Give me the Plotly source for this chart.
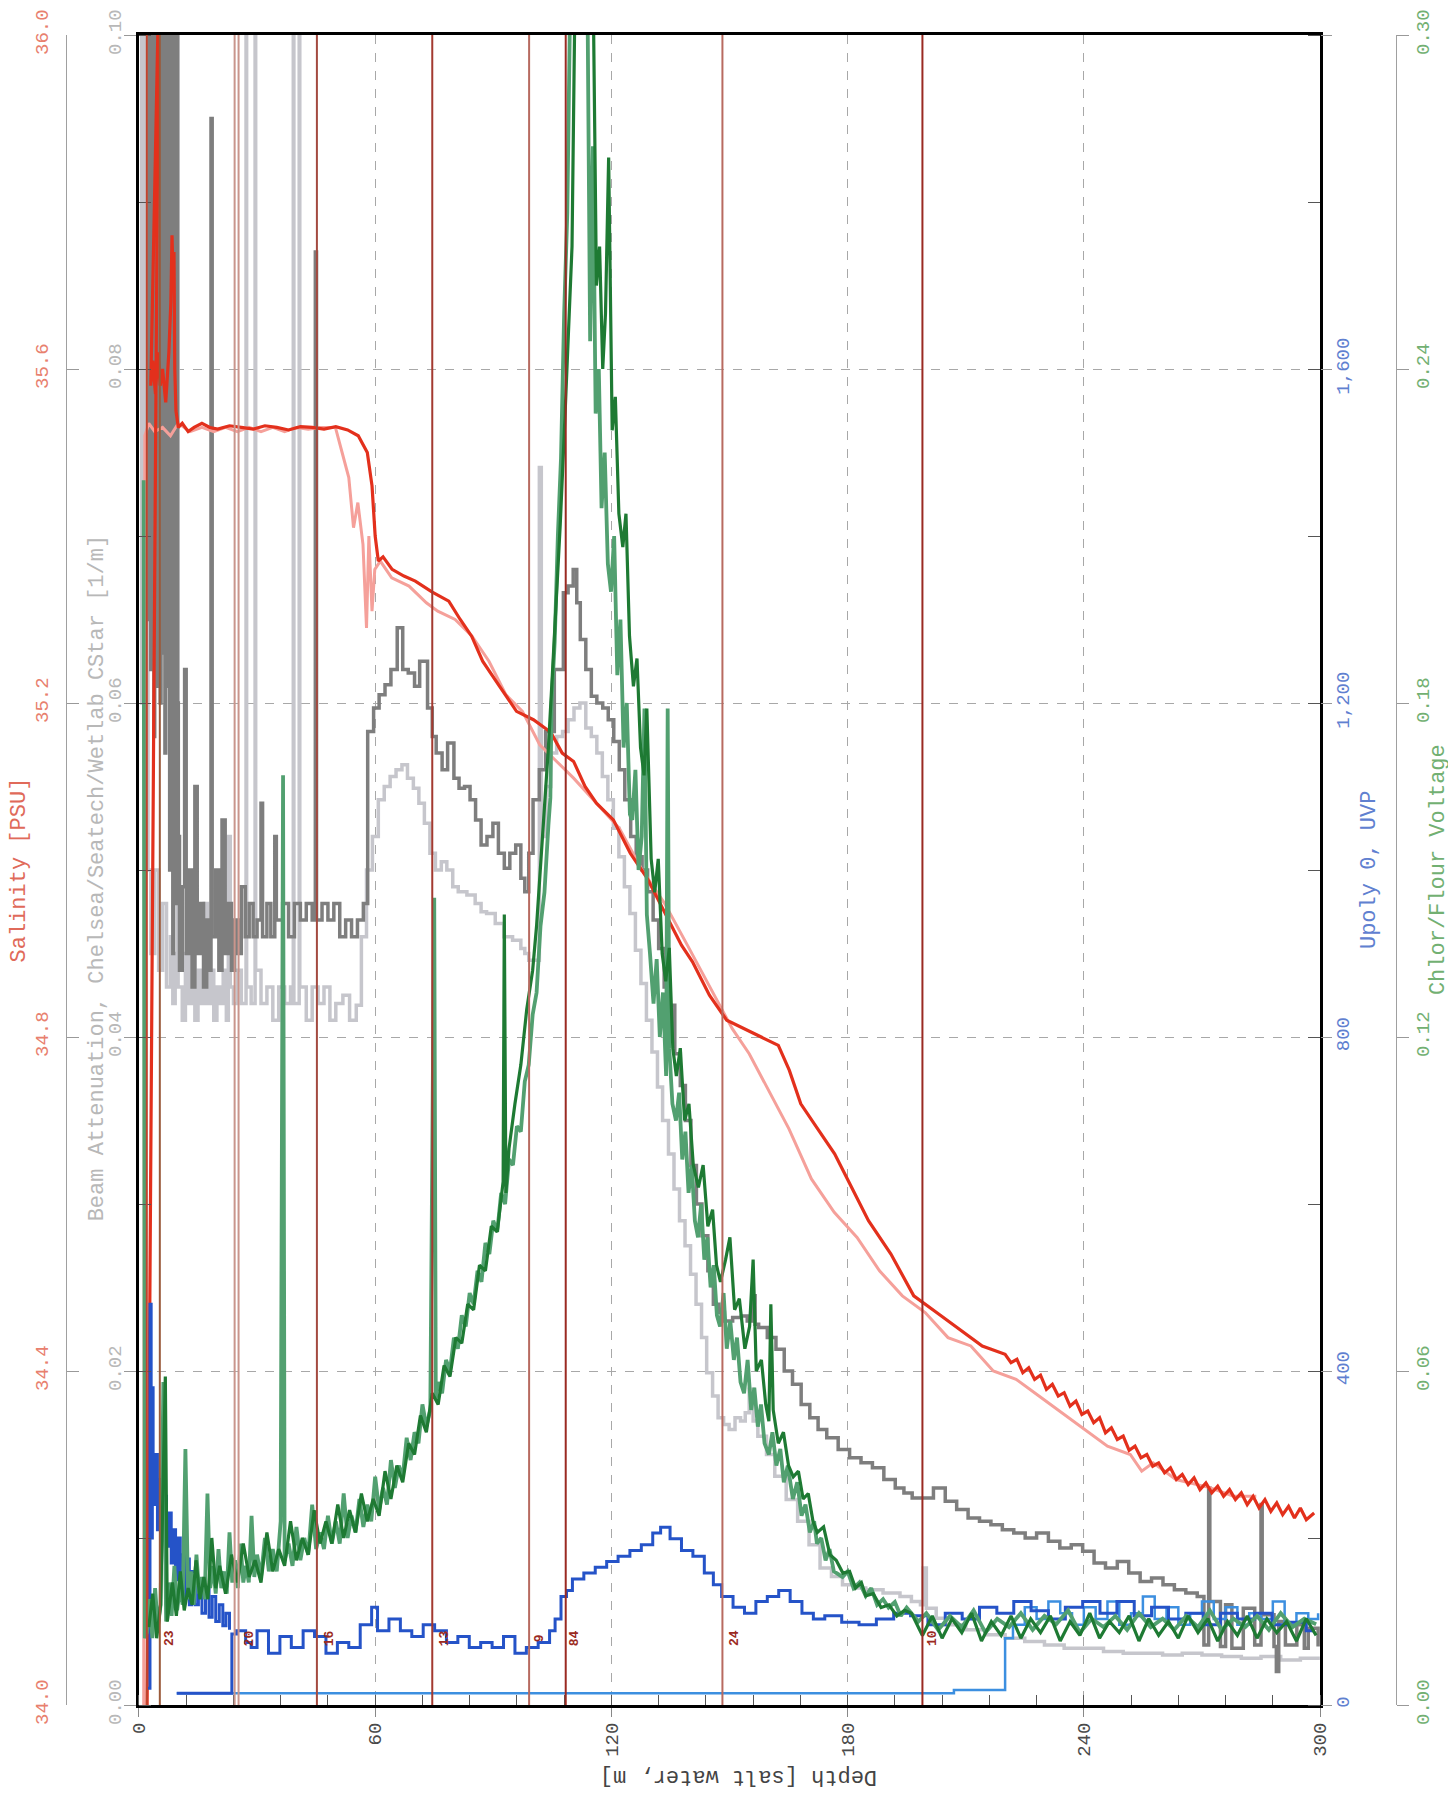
import plotly.graph_objects as go

# ---- data (depth in m) ----
sal_a_depth = [
    2.0, 5.0, 3.0, 3.5, 4.2, 4.8, 5.4, 6.0, 6.8, 7.6,
    8.1, 8.4, 8.7, 8.9, 9.1, 9.4, 10.0, 11.0, 12.5, 14.0,
    16.0, 18.0, 20.0, 23.0, 26.0, 29.0, 32.0, 35.0, 38.0, 41.0,
    44.0, 47.0, 50.0, 53.0, 55.7, 58.0, 59.2, 60.0, 60.8, 62.0,
    64.3, 67.3, 70.2, 74.4, 78.7, 81.6, 84.5, 87.3, 91.6, 95.9,
    100.2, 104.6, 107.5, 110.4, 113.3, 116.2, 120.5, 124.8, 129.1, 133.4,
    137.8, 140.6, 144.9, 149.3, 153.6, 158.0, 162.4, 165.2, 168.1, 172.4,
    176.7, 181.0, 185.3, 191.0, 196.8, 202.6, 208.4, 214.2,
    220.0, 221.5, 223.0, 224.5, 226.0, 227.5, 229.0, 230.5, 232.0, 233.5,
    235.0, 236.5, 238.0, 239.5, 241.0, 242.5, 244.0, 245.5, 247.0, 248.5,
    250.0, 251.5, 253.0, 254.5, 256.0, 257.5, 259.0, 260.5, 262.0, 263.5,
    265.0, 266.5, 268.0, 269.5, 271.0, 272.5, 274.0, 275.5, 277.0, 278.5,
    280.0, 281.5, 283.0, 284.5, 286.0, 287.5, 289.0, 290.5, 292.0, 293.5,
    295.0, 296.5, 298.5]
sal_a = [
    33.95, 36.05, 35.58, 35.61, 35.57, 35.62, 35.58, 35.60, 35.56, 35.62,
    35.68, 35.76, 35.70, 35.74, 35.60, 35.55, 35.53, 35.535, 35.525, 35.53,
    35.535, 35.53, 35.528, 35.532, 35.53, 35.528, 35.532, 35.53, 35.527, 35.531,
    35.53, 35.528, 35.531, 35.527, 35.52, 35.50, 35.46, 35.40, 35.37, 35.375,
    35.36, 35.352, 35.346, 35.333, 35.322, 35.30, 35.28, 35.25, 35.22, 35.19,
    35.18, 35.165, 35.14, 35.13, 35.10, 35.08, 35.06, 35.02, 34.99, 34.95,
    34.91, 34.89, 34.85, 34.82, 34.81, 34.80, 34.79, 34.76, 34.72, 34.69,
    34.66, 34.62, 34.58, 34.54, 34.49, 34.47, 34.45, 34.43,
    34.42, 34.41, 34.414, 34.398, 34.404, 34.39, 34.395, 34.378, 34.384, 34.37,
    34.374, 34.358, 34.364, 34.348, 34.352, 34.338, 34.344, 34.326, 34.332, 34.318,
    34.322, 34.305, 34.31, 34.296, 34.30, 34.286, 34.29, 34.278, 34.284, 34.27,
    34.276, 34.264, 34.272, 34.258, 34.266, 34.254, 34.262, 34.25, 34.258, 34.246,
    34.254, 34.24, 34.25, 34.236, 34.246, 34.232, 34.242, 34.228, 34.238, 34.224,
    34.236, 34.222, 34.23]

sal_b_depth = [
    1.2, 1.5, 2.5, 4.0, 6.0, 8.0, 10.0, 13.0, 16.0, 19.0,
    22.0, 25.0, 28.0, 31.0, 34.0, 37.0, 40.0, 43.0, 46.0, 48.5,
    49.9, 51.6, 53.3, 54.5, 55.6, 56.9, 57.8, 58.4, 59.2, 59.9,
    61.3, 64.2, 68.6, 73.0, 75.9, 80.3, 84.6, 88.9, 93.2, 97.4,
    101.8, 106.1, 110.4, 116.2, 122.0, 127.8, 133.5, 139.3, 145.0, 150.7,
    155.0, 159.4, 165.1, 170.8, 176.6, 182.4, 188.1, 193.9, 199.7, 205.5,
    211.3, 217.0, 222.8, 228.6, 234.4, 240.2, 246.0, 251.8, 254.7, 257.6,
    263.4, 272.2, 278.0, 283.8]
sal_b = [
    33.95, 35.52, 35.535, 35.525, 35.53, 35.52, 35.535, 35.525, 35.53, 35.525,
    35.53, 35.525, 35.53, 35.525, 35.53, 35.525, 35.53, 35.528, 35.53, 35.53,
    35.53, 35.50, 35.47, 35.41, 35.44, 35.39, 35.29, 35.40, 35.31, 35.36,
    35.37, 35.35, 35.34, 35.32, 35.31, 35.30, 35.28, 35.25, 35.21, 35.19,
    35.15, 35.13, 35.11, 35.08, 35.05, 35.00, 34.96, 34.91, 34.86, 34.81,
    34.78, 34.74, 34.69, 34.63, 34.59, 34.56, 34.52, 34.49, 34.47, 34.44,
    34.43, 34.40, 34.39, 34.37, 34.35, 34.33, 34.31, 34.30, 34.28, 34.29,
    34.27, 34.26, 34.25, 34.25]

beam_a_depth = [
    2.4, 2.6, 2.8, 3.0, 3.2, 3.4, 3.6, 3.8, 4.0, 4.2,
    4.4, 4.6, 4.8, 5.0, 5.2, 5.4, 5.6, 5.8, 6.0, 6.2,
    6.4, 6.6, 6.8, 7.0, 7.2, 7.4, 7.6, 7.8, 8.0, 8.2,
    8.4, 8.6, 8.8, 9.0, 9.2, 9.4, 9.6, 9.8, 10.0,
    10.3, 11.0, 11.6, 12.0, 12.8, 13.5, 14.2, 14.8, 15.6, 16.4,
    17.2, 17.9, 18.3, 18.6, 19.5, 20.3, 21.1, 21.9, 22.7, 23.5,
    24.3, 25.1, 26.0, 27.0, 28.0, 29.0, 30.0, 31.0, 31.4, 32.5,
    33.5, 34.5, 34.9, 36.5, 38.0, 39.5, 41.0, 42.5, 44.0, 44.8,
    45.1, 46.5, 48.0, 49.5, 51.0, 52.5, 54.0, 55.5, 57.0, 58.1,
    59.6, 61.0, 62.5, 64.0, 65.6, 67.0, 68.4, 70.0, 71.3, 73.3,
    74.5, 75.5, 77.0, 78.4, 80.0, 81.3, 82.7, 84.1, 85.5, 86.9,
    88.4, 89.9, 91.3, 92.8, 94.2, 95.7, 97.0, 98.0, 99.0, 100.1,
    101.7, 103.3, 105.5, 107.8, 109.0, 110.3, 111.2, 112.1, 113.5, 114.9,
    116.3, 117.8, 119.2, 120.6, 122.0, 123.4, 124.9, 126.3, 127.8, 129.2,
    130.6, 132.0, 133.4, 134.7, 136.1, 137.5, 138.8, 140.2, 141.6, 143.0,
    144.5, 145.9, 147.3, 148.7, 150.8, 153.0, 154.5, 155.9, 156.5, 157.4,
    159.6, 161.8, 163.9, 166.0, 168.2, 170.4, 172.5, 174.7, 177.6, 180.5,
    183.4, 186.3, 189.2, 192.1, 194.3, 196.4, 198.9, 201.8, 204.8, 207.7,
    210.6, 213.5, 216.4, 219.3, 222.2, 225.1, 228.0, 231.0, 233.9, 236.8,
    239.7, 242.6, 245.5, 248.5, 251.4, 254.3, 257.2, 260.1, 263.0, 265.9,
    268.8, 270.5, 271.7, 272.0, 274.7, 276.0, 277.6, 280.5, 283.4, 285.0,
    285.3, 288.3, 288.9, 289.5, 291.2, 294.1, 296.0, 297.0, 299.5]
beam_a = [
    0.12, 0.065, 0.12, 0.062, 0.12, 0.070, 0.12, 0.058, 0.12, 0.066,
    0.12, 0.061, 0.12, 0.072, 0.12, 0.060, 0.12, 0.068, 0.12, 0.063,
    0.12, 0.057, 0.12, 0.066, 0.12, 0.061, 0.12, 0.050, 0.12, 0.064,
    0.12, 0.045, 0.12, 0.062, 0.12, 0.048, 0.11, 0.060, 0.052,
    0.044, 0.049, 0.062, 0.045, 0.050, 0.043, 0.055, 0.045, 0.048, 0.043,
    0.047, 0.044, 0.095, 0.046, 0.050, 0.044, 0.053, 0.045, 0.048, 0.044,
    0.047, 0.045, 0.049, 0.046, 0.048, 0.046, 0.047, 0.054, 0.046, 0.048,
    0.046, 0.052, 0.047, 0.048, 0.046, 0.048, 0.047, 0.048, 0.047, 0.087,
    0.047, 0.048, 0.047, 0.048, 0.046, 0.047, 0.046, 0.047, 0.048, 0.0583,
    0.0597, 0.0605, 0.0611, 0.062, 0.0645, 0.062, 0.0618, 0.061, 0.0625, 0.0597,
    0.058, 0.057, 0.056, 0.0576, 0.0555, 0.0549, 0.055, 0.0542, 0.053, 0.0515,
    0.052, 0.0528, 0.051, 0.0501, 0.051, 0.0515, 0.0495, 0.0487, 0.051, 0.0542,
    0.056, 0.0583, 0.062, 0.0666, 0.067, 0.068, 0.066, 0.0638, 0.062, 0.0604,
    0.060, 0.0597, 0.059, 0.0577, 0.056, 0.0542, 0.052, 0.0508, 0.050, 0.0487,
    0.047, 0.0453, 0.043, 0.0419, 0.039, 0.0371, 0.035, 0.0323, 0.030, 0.0281,
    0.026, 0.024, 0.0235, 0.023, 0.0232, 0.0233, 0.023, 0.0245, 0.0228, 0.0226,
    0.022, 0.0213, 0.020, 0.0192, 0.018, 0.0172, 0.0165, 0.016, 0.0153, 0.0148,
    0.0145, 0.0142, 0.0135, 0.013, 0.0127, 0.0124, 0.0124, 0.0130, 0.0122, 0.0117,
    0.0112, 0.0110, 0.0108, 0.0105, 0.0103, 0.0100, 0.0103, 0.0098, 0.0094, 0.0096,
    0.0092, 0.0085, 0.0082, 0.0086, 0.0079, 0.0074, 0.0076, 0.0072, 0.0069, 0.0067,
    0.0065, 0.0036, 0.0130, 0.0062, 0.0035, 0.0060, 0.0034, 0.0058, 0.0036, 0.0120,
    0.0054, 0.0035, 0.0020, 0.0050, 0.0036, 0.0048, 0.0034, 0.0046, 0.0035]

beam_b_depth = [
    0.3, 0.7, 1.1, 1.5, 1.9, 2.3, 3.0, 4.0, 5.0, 6.0,
    7.0, 8.0, 8.6, 9.2, 9.8, 9.95, 11.0, 11.8, 12.6, 13.4,
    14.2, 15.0, 15.8, 16.6, 17.4, 18.2, 19.0, 19.8, 20.6, 21.4,
    22.2, 22.7, 23.2, 24.0, 25.0, 26.0, 27.2, 27.35, 28.5, 29.5,
    29.65, 31.0, 32.5, 34.0, 35.5, 37.0, 38.5, 39.2, 39.35, 40.7,
    40.85, 42.5, 44.0, 45.5, 47.0, 48.5, 50.0, 51.8, 53.5, 55.2,
    56.5, 57.8, 59.3, 60.8, 62.3, 63.8, 65.3, 66.8, 68.2, 69.7,
    71.1, 72.5, 73.9, 75.3, 76.8, 78.2, 79.7, 81.1, 83.3, 85.4,
    86.9, 88.3, 90.5, 92.7, 94.9, 97.0, 98.0, 99.0, 101.7, 102.2,
    103.4, 104.6, 106.1, 107.6, 109.0, 110.5, 112.0, 113.5, 114.9, 116.3,
    117.7, 119.1, 120.5, 121.9, 123.3, 124.7, 126.1, 127.5, 128.9, 130.3,
    131.7, 133.0, 134.5, 135.9, 137.3, 138.7, 140.1, 141.5, 142.9, 144.2,
    145.7, 147.1, 148.5, 149.9, 151.4, 152.8, 154.0, 155.0, 156.0, 157.2,
    159.4, 161.5, 164.4, 167.3, 170.2, 173.0, 175.9, 178.7, 181.7, 184.6,
    189.0, 193.3, 196.2, 198.5, 199.2, 200.0, 202.5, 205.0, 210.0, 215.0,
    220.0, 225.0, 230.0, 235.0, 240.0, 245.0, 250.0, 255.0, 260.0, 265.0,
    270.0, 275.0, 280.0, 285.0, 290.0, 295.0, 299.5]
beam_b = [
    0.12, 0.060, 0.12, 0.055, 0.12, 0.050, 0.045, 0.050, 0.044, 0.048,
    0.043, 0.046, 0.042, 0.045, 0.12, 0.043, 0.041, 0.045, 0.042, 0.046,
    0.041, 0.044, 0.042, 0.048, 0.042, 0.044, 0.041, 0.043, 0.042, 0.044,
    0.041, 0.052, 0.043, 0.042, 0.044, 0.042, 0.12, 0.043, 0.042, 0.12,
    0.044, 0.042, 0.043, 0.041, 0.043, 0.042, 0.043, 0.12, 0.042, 0.12,
    0.043, 0.041, 0.043, 0.042, 0.043, 0.041, 0.042, 0.0425, 0.041, 0.0419,
    0.046, 0.050, 0.052, 0.0542, 0.055, 0.0556, 0.056, 0.0563, 0.0555, 0.0549,
    0.054, 0.0528, 0.051, 0.050, 0.0505, 0.050, 0.049, 0.0487, 0.0485, 0.048,
    0.0475, 0.0474, 0.0468, 0.046, 0.0458, 0.0453, 0.045, 0.0446, 0.0741, 0.052,
    0.055, 0.057, 0.058, 0.0583, 0.059, 0.0597, 0.060, 0.0585, 0.058, 0.057,
    0.0556, 0.0542, 0.0525, 0.0508, 0.049, 0.0474, 0.0452, 0.0432, 0.041, 0.0391,
    0.037, 0.035, 0.033, 0.0309, 0.029, 0.0275, 0.0258, 0.024, 0.022, 0.0199,
    0.0185, 0.0172, 0.0168, 0.0165, 0.0172, 0.0170, 0.0175, 0.0189, 0.0170, 0.0161,
    0.0150, 0.0137, 0.0123, 0.011, 0.0096, 0.0082, 0.0077, 0.0072, 0.0070, 0.0069,
    0.0067, 0.0065, 0.0062, 0.0060, 0.0082, 0.0058, 0.0052, 0.0048, 0.0045, 0.0042,
    0.0040, 0.0038, 0.0036, 0.0034, 0.0034, 0.0032, 0.0031, 0.0031, 0.0030, 0.0031,
    0.0030, 0.0029, 0.0028, 0.0029, 0.0027, 0.0028, 0.0027]

chl_b_depth = [
    1.2, 1.5, 2.0, 2.7, 3.4, 4.1, 4.8, 5.5, 6.2, 6.9,
    7.6, 8.3, 9.0, 9.7, 10.4, 11.1, 11.8, 12.5, 13.2, 13.9,
    14.6, 15.3, 16.0, 16.7, 17.4, 18.1, 18.8, 19.5, 20.2, 20.9,
    21.6, 22.3, 23.0, 23.7, 24.4, 25.1, 25.8, 26.5, 27.2, 27.9,
    28.6, 29.3, 30.0, 31.0, 32.0, 33.0, 34.0, 35.0, 36.0, 36.6,
    37.0, 38.0, 39.0, 40.0, 41.0, 42.0, 43.0, 44.0, 45.0, 46.0,
    47.0, 48.0, 49.0, 50.0, 51.0, 52.0, 53.0, 54.0, 55.0, 56.0,
    57.0, 58.0, 59.0, 60.0, 61.0, 62.0, 63.0, 64.0, 65.0, 66.0,
    67.0, 68.0, 69.0, 70.0, 71.0, 72.0, 73.0, 74.0, 75.0, 75.4,
    76.0, 77.0, 78.0, 79.0, 80.0, 81.0, 82.0, 83.0, 84.0, 85.0,
    86.0, 87.0, 88.0, 89.0, 90.0, 91.0, 92.0, 93.0, 94.0, 95.0,
    96.0, 97.0, 98.0, 99.0, 100.0, 101.0, 102.0, 103.0, 104.0, 104.5,
    104.8, 105.6, 106.4, 107.2, 108.0, 108.8, 109.6, 110.6, 111.6, 112.6,
    113.4, 114.0, 114.6, 115.3, 116.0, 116.8, 117.5, 118.3, 119.1, 119.9,
    120.7, 121.5, 122.3, 123.1, 123.9, 124.7, 125.3, 126.1, 126.9, 127.7,
    128.4, 129.0, 129.8, 130.7, 131.5, 132.3, 133.1, 133.9, 134.3, 134.7,
    135.5, 136.4, 137.2, 138.0, 138.8, 139.6, 140.4, 141.2, 142.0, 142.8,
    143.6, 144.4, 145.2, 146.0, 146.8, 147.6, 148.5, 149.3, 150.2, 151.1,
    151.9, 152.8, 153.7, 154.6, 155.5, 156.3, 157.2, 158.0, 158.9, 160.0,
    160.9, 161.9, 162.9, 163.8, 164.8, 166.1, 167.2, 168.3, 169.3, 170.4,
    171.5, 172.2, 173.3, 174.4, 175.4, 176.5, 178.7, 180.0, 181.5, 183.0,
    184.6, 186.0, 187.5, 189.0, 190.4, 192.0, 193.5, 195.0, 196.2, 198.0,
    200.0, 203.0, 206.0, 209.0, 212.0, 215.0, 218.0, 221.0, 224.0, 227.0,
    230.0, 233.0, 236.0, 239.0, 242.0, 245.0, 248.0, 251.0, 254.0, 257.0,
    260.0, 263.0, 266.0, 269.0, 272.0, 275.0, 278.0, 281.0, 284.0, 287.0,
    290.0, 293.0, 296.0, 299.0]
chl_b = [
    0.220, 0.012, 0.013, 0.019, 0.012, 0.021, 0.014, 0.018, 0.058, 0.015,
    0.022, 0.016, 0.025, 0.017, 0.021, 0.018, 0.046, 0.019, 0.024, 0.018,
    0.027, 0.020, 0.023, 0.019, 0.038, 0.021, 0.025, 0.020, 0.028, 0.021,
    0.024, 0.020, 0.031, 0.022, 0.026, 0.021, 0.029, 0.022, 0.025, 0.022,
    0.034, 0.023, 0.027, 0.023, 0.030, 0.024, 0.028, 0.024, 0.033, 0.167,
    0.026, 0.029, 0.025, 0.032, 0.026, 0.030, 0.027, 0.036, 0.028, 0.031,
    0.028, 0.034, 0.029, 0.033, 0.029, 0.038, 0.030, 0.034, 0.031, 0.037,
    0.032, 0.036, 0.033, 0.041, 0.035, 0.039, 0.036, 0.044, 0.039, 0.043,
    0.041, 0.048, 0.044, 0.049, 0.047, 0.054, 0.050, 0.053, 0.145, 0.055,
    0.058, 0.056, 0.062, 0.060, 0.066, 0.064, 0.070, 0.068, 0.074, 0.072,
    0.078, 0.076, 0.083, 0.081, 0.087, 0.085, 0.092, 0.090, 0.098, 0.097,
    0.104, 0.103, 0.112, 0.115, 0.124, 0.128, 0.140, 0.146, 0.158, 0.163,
    0.180, 0.191, 0.210, 0.224, 0.250, 0.268, 0.310, 0.320, 0.310, 0.320,
    0.310, 0.300, 0.245, 0.280, 0.232, 0.240, 0.215, 0.225, 0.205, 0.200,
    0.210, 0.185, 0.195, 0.172, 0.180, 0.160, 0.159, 0.168, 0.150, 0.156,
    0.179, 0.142, 0.135, 0.126, 0.134, 0.120, 0.128, 0.113, 0.179, 0.118,
    0.108, 0.105, 0.110, 0.098, 0.103, 0.092, 0.097, 0.087, 0.084, 0.090,
    0.080, 0.084, 0.075, 0.079, 0.070, 0.068, 0.074, 0.064, 0.069, 0.062,
    0.066, 0.058, 0.056, 0.062, 0.053, 0.057, 0.050, 0.054, 0.047, 0.045,
    0.049, 0.043, 0.046, 0.040, 0.043, 0.037, 0.040, 0.034, 0.036, 0.031,
    0.033, 0.029, 0.030, 0.026, 0.028, 0.024, 0.023, 0.024, 0.021, 0.022,
    0.0196, 0.021, 0.018, 0.019, 0.0175, 0.0185, 0.016, 0.0175, 0.0165, 0.015,
    0.0165, 0.0135, 0.016, 0.014, 0.017, 0.013, 0.0155, 0.014, 0.0165, 0.0135,
    0.016, 0.0145, 0.017, 0.013, 0.0155, 0.014, 0.016, 0.0135, 0.0165, 0.014,
    0.0155, 0.0135, 0.016, 0.014, 0.017, 0.0135, 0.0155, 0.014, 0.016, 0.0135,
    0.0165, 0.014, 0.0155, 0.0145]

chl_a_depth = [
    2.5, 3.5, 4.5, 5.5, 6.7, 7.2, 8.5, 9.5, 10.5, 11.5,
    12.5, 13.5, 14.5, 15.5, 16.5, 17.5, 18.5, 19.5, 20.5, 22.0,
    23.5, 25.0, 26.5, 28.0, 29.5, 31.0, 32.5, 34.0, 35.5, 37.0,
    38.5, 40.0, 41.5, 43.0, 44.5, 46.0, 47.5, 49.0, 50.5, 52.0,
    53.5, 55.0, 56.5, 58.0, 59.5, 61.0, 62.5, 64.0, 65.5, 67.0,
    68.5, 70.0, 71.5, 73.0, 74.5, 76.0, 77.5, 79.0, 80.5, 82.0,
    83.5, 85.0, 86.5, 88.0, 89.5, 91.0, 92.5, 92.8, 93.2, 94.0,
    95.5, 97.0, 98.5, 100.0, 101.0, 102.0, 103.0, 104.0, 105.0, 106.0,
    107.0, 108.0, 109.0, 110.0, 110.8, 111.8, 112.8, 113.8, 114.8, 115.5,
    116.2, 117.0, 117.8, 118.5, 119.3, 120.2, 121.0, 121.9, 122.9, 123.7,
    124.6, 125.6, 126.5, 127.4, 128.3, 129.0, 130.1, 131.0, 131.9, 132.9,
    133.8, 134.7, 135.6, 136.5, 137.5, 138.6, 139.7, 140.8, 142.1, 143.3,
    144.5, 145.7, 146.7, 147.7, 149.0, 150.1, 151.3, 152.5, 153.9, 155.1,
    156.0, 156.8, 158.1, 159.2, 160.0, 160.5, 161.1, 162.4, 163.7, 165.0,
    166.2, 167.5, 168.7, 170.0, 171.2, 172.3, 173.9, 175.5, 177.1, 178.8,
    180.5, 182.0, 183.5, 184.6, 186.5, 188.5, 190.5, 192.5, 194.5, 196.2,
    199.0, 201.5, 204.0, 206.5, 209.0, 211.5, 214.0, 216.5, 219.0, 221.5,
    224.0, 226.5, 229.0, 231.5, 234.0, 236.5, 239.0, 241.5, 244.0, 246.5,
    249.0, 251.5, 254.0, 256.5, 259.0, 261.5, 264.0, 266.5, 269.0, 271.5,
    274.0, 276.5, 279.0, 281.5, 284.0, 286.5, 289.0, 291.5, 294.0, 296.5,
    299.0]
chl_a = [
    0.014, 0.020, 0.012, 0.018, 0.059, 0.015, 0.022, 0.016, 0.024, 0.017,
    0.021, 0.018, 0.026, 0.019, 0.023, 0.019, 0.030, 0.021, 0.025, 0.020,
    0.027, 0.022, 0.029, 0.023, 0.026, 0.022, 0.031, 0.024, 0.028, 0.025,
    0.033, 0.026, 0.030, 0.027, 0.035, 0.029, 0.033, 0.029, 0.036, 0.030,
    0.035, 0.031, 0.038, 0.033, 0.037, 0.034, 0.042, 0.037, 0.043, 0.040,
    0.047, 0.045, 0.052, 0.049, 0.056, 0.054, 0.061, 0.059, 0.066, 0.065,
    0.072, 0.071, 0.079, 0.078, 0.086, 0.085, 0.094, 0.142, 0.092, 0.100,
    0.108, 0.115, 0.125, 0.132, 0.140, 0.150, 0.162, 0.172, 0.185, 0.198,
    0.212, 0.228, 0.245, 0.262, 0.310, 0.320, 0.310, 0.320, 0.310, 0.300,
    0.255, 0.262, 0.240, 0.250, 0.278, 0.229, 0.235, 0.214, 0.208, 0.214,
    0.192, 0.183, 0.188, 0.172, 0.167, 0.179, 0.152, 0.146, 0.152, 0.135,
    0.130, 0.136, 0.118, 0.113, 0.118, 0.105, 0.108, 0.097, 0.093, 0.097,
    0.086, 0.089, 0.079, 0.076, 0.080, 0.084, 0.071, 0.073, 0.064, 0.068,
    0.080, 0.060, 0.062, 0.054, 0.051, 0.072, 0.053, 0.047, 0.049, 0.043,
    0.041, 0.042, 0.037, 0.038, 0.033, 0.031, 0.032, 0.027, 0.026, 0.0237,
    0.024, 0.021, 0.022, 0.0196, 0.020, 0.0175, 0.018, 0.016, 0.017, 0.0165,
    0.0125, 0.016, 0.012, 0.0155, 0.013, 0.0165, 0.0115, 0.015, 0.0125, 0.016,
    0.012, 0.0155, 0.013, 0.016, 0.0115, 0.015, 0.0125, 0.0165, 0.012, 0.015,
    0.013, 0.016, 0.0115, 0.0155, 0.0125, 0.015, 0.012, 0.016, 0.013, 0.0155,
    0.0115, 0.015, 0.0125, 0.016, 0.012, 0.0155, 0.013, 0.015, 0.0115, 0.0155,
    0.0125]

uvp_a_depth = [
    2.3, 2.8, 3.1, 3.4, 3.6, 4.1, 4.7, 5.2, 5.8, 6.4,
    7.0, 7.6, 8.2, 8.7, 9.3, 9.9, 10.5, 11.1, 11.7, 12.2,
    12.8, 13.4, 14.3, 15.1, 16.0, 16.9, 17.8, 18.6, 19.5, 20.4,
    21.3, 22.1, 23.0, None, 9.6, 23.6, 23.6, 24.8, 27.1, 28.5,
    30.0, 32.9, 35.8, 38.7, 41.7, 44.6, 47.5, 50.4, 53.3, 56.2,
    59.1, 60.6, 63.5, 66.4, 69.3, 72.2, 75.1, 78.1, 81.0, 83.9,
    86.8, 89.7, 92.6, 95.5, 98.4, 101.4, 104.3, 105.7, 107.2, 108.6,
    110.1, 113.0, 115.9, 118.8, 121.7, 124.7, 127.6, 130.5, 132.5, 134.9,
    137.8, 140.7, 143.6, 145.9, 148.0, 150.9, 153.8, 156.7, 159.6, 162.5,
    165.4, 168.4, 171.3, 174.2, 178.5, 182.9, 187.3, 191.7, 196.0, 200.4,
    204.8, 209.1, 213.5, 217.9, 222.2, 226.6, 231.0, 235.3, 239.7, 244.1,
    248.4, 252.8, 257.2, 261.5, 265.9, 270.3, 274.7, 279.0, 283.4, 287.8,
    292.1, 296.5, 298.0]
uvp_a = [
    20, 480, 200, 380, 240, 300, 210, 270, 200, 250,
    190, 230, 170, 210, 150, 200, 140, 180, 130, 175,
    120, 160, 120, 150, 110, 140, 105, 130, 100, 120,
    95, 110, 90, None, 14, 14, 85, 89, 75, 69,
    89, 62, 82, 69, 89, 82, 62, 75, 69, 96,
    117, 89, 103, 89, 82, 96, 89, 75, 82, 69,
    75, 69, 82, 62, 69, 75, 89, 103, 130, 137,
    151, 158, 165, 172, 178, 185, 192, 206, 213, 199,
    185, 178, 158, 144, 130, 117, 110, 124, 130, 137,
    124, 110, 103, 107, 99, 96, 103, 110, 107, 96,
    110, 103, 117, 110, 124, 113, 103, 117, 124, 110,
    124, 107, 117, 103, 110, 96, 110, 103, 110, 96,
    99, 89, 92]

uvp_b_depth = [
    9.6, 100.0, 207.0, 207.0, 220.0, 220.0, 222.0, 225.0, 228.0, 231.0,
    234.0, 237.0, 240.0, 243.0, 246.0, 249.0, 252.0, 255.0, 258.0, 261.0,
    264.0, 267.0, 270.0, 273.0, 276.0, 279.0, 282.0, 285.0, 288.0, 291.0,
    294.0, 297.0, 299.5]
uvp_b = [
    14, 14, 14, 18, 18, 80, 96, 117, 103, 124,
    110, 96, 117, 103, 124, 96, 110, 130, 103, 117,
    96, 110, 124, 103, 117, 96, 110, 103, 124, 96,
    110, 103, 110]

bottle_depths = [2.0, 5.3, 24.3, 25.3, 45.2, 74.5, 99.1, 108.4, 148.2, 199.0]
bottle_colors = ['#c0442e', '#9a5a3a', '#c9958c', '#c9958c', '#a34a40',
                 '#a33a30', '#b76a60', '#9a2a22', '#b86a60', '#9a2a22']
label_depths = [7.6, 28.0, 48.3, 77.5, 101.6, 110.5, 151.1, 201.4]
label_text = ['23', '20', '16', '13', '9', '84', '24', '10']

depth_ticks = [0, 60, 120, 180, 240, 300]

MONO = 'Liberation Mono'

fig = go.Figure()

# beam attenuation (two casts)
fig.add_trace(go.Scatter(x=beam_b_depth, y=beam_b, mode='lines', line_shape='hv',
                         line=dict(color='#c6c6cc', width=3.5), yaxis='y'))
fig.add_trace(go.Scatter(x=beam_a_depth, y=beam_a, mode='lines', line_shape='hv',
                         line=dict(color='#7e7e7e', width=3.5), yaxis='y'))
# chlorophyll fluorescence
fig.add_trace(go.Scatter(x=chl_b_depth, y=chl_b, mode='lines',
                         line=dict(color='#52a070', width=3.8), yaxis='y4'))
fig.add_trace(go.Scatter(x=chl_a_depth, y=chl_a, mode='lines',
                         line=dict(color='#1e7a33', width=3.2), yaxis='y4'))
# UVP
fig.add_trace(go.Scatter(x=uvp_b_depth, y=uvp_b, mode='lines', line_shape='hv',
                         line=dict(color='#3c8fe0', width=2.5), yaxis='y3'))
fig.add_trace(go.Scatter(x=uvp_a_depth, y=uvp_a, mode='lines', line_shape='hv',
                         line=dict(color='#2553c8', width=3), yaxis='y3'))
# salinity
fig.add_trace(go.Scatter(x=sal_b_depth, y=sal_b, mode='lines',
                         line=dict(color='#f5a09a', width=3), yaxis='y2'))
fig.add_trace(go.Scatter(x=sal_a_depth, y=sal_a, mode='lines',
                         line=dict(color='#e3301c', width=3.2), yaxis='y2'))

# bottle fire markers
for d, c in zip(bottle_depths, bottle_colors):
    fig.add_vline(x=d, line=dict(color=c, width=2), layer='above')

for d, t in zip(label_depths, label_text):
    fig.add_annotation(x=d, y=0.004, xref='x', yref='y', text='<b>' + t + '</b>',
                       showarrow=False, textangle=-90,
                       font=dict(family=MONO, size=13, color='#9b2a22'))

axis_font = dict(family=MONO, size=19)

# the page body adds an 8px offset, so the margins are trimmed to compensate
fig.update_layout(
    width=1456, height=1796,
    margin=dict(l=2, r=18, t=27, b=99),
    paper_bgcolor='white', plot_bgcolor='white',
    showlegend=False,
    font=dict(family=MONO),
    xaxis=dict(
        domain=[0.0898, 0.9123], range=[0, 300], automargin=False,
        tickvals=depth_ticks, tickangle=-90,
        tickfont=dict(axis_font, color='#4a4a4a'),
        ticks='outside', ticklen=9, tickcolor='#888', ticklabelstandoff=-2,
        showgrid=True, gridcolor='#a8a8a8', griddash='dash', gridwidth=1,
        showline=True, linecolor='black', linewidth=3, mirror=True,
        zeroline=False,
        minor=dict(dtick=12, ticks='inside', ticklen=10, tickcolor='#555', showgrid=False),
    ),
    yaxis=dict(
        range=[0, 0.1], dtick=0.02, tickformat='.2f', tickangle=-90, automargin=False,
        tickfont=dict(axis_font, color='#b8b8b8'),
        ticks='outside', ticklen=12, tickcolor='#999', ticklabelstandoff=-5,
        showgrid=True, gridcolor='#a8a8a8', griddash='dash', gridwidth=1,
        showline=True, linecolor='black', linewidth=3, mirror=True,
        zeroline=False,
        minor=dict(dtick=0.01, ticks='inside', ticklen=12, tickcolor='#555', showgrid=False),
    ),
    yaxis2=dict(
        overlaying='y', side='left', anchor='free', position=0.039, automargin=False,
        range=[34, 36], dtick=0.4, tickformat='.1f', tickangle=-90,
        tickfont=dict(axis_font, color='#e8806e'),
        ticks='inside', ticklen=12, tickcolor='#999', ticklabelstandoff=10,
        showline=True, linecolor='#a0a0a0', linewidth=1,
        showgrid=False, zeroline=False,
    ),
    yaxis3=dict(
        overlaying='y', side='right', anchor='x', automargin=False,
        range=[0, 2000], dtick=400, tickformat=',.0f', tickangle=-90,
        tickfont=dict(axis_font, color='#6080d0'),
        ticks='outside', ticklen=11, tickcolor='#999', ticklabelstandoff=-6,
        showline=False, showgrid=False, zeroline=False,
        minor=dict(dtick=200, ticks='inside', ticklen=12, tickcolor='#555'),
    ),
    yaxis4=dict(
        overlaying='y', side='right', anchor='free', position=0.9652, automargin=False,
        range=[0, 0.3], dtick=0.06, tickformat='.2f', tickangle=-90,
        tickfont=dict(axis_font, color='#72b072'),
        ticks='outside', ticklen=12, tickcolor='#999', ticklabelstandoff=-3,
        showline=True, linecolor='#a0a0a0', linewidth=1,
        showgrid=False, zeroline=False,
    ),
)

title_font = dict(family=MONO, size=22)
titles = [
    (0.0066, 0.5, 'Salinity [PSU]', '#e06a5a', -90),
    (0.0606, 0.495, 'Beam Attenuation, Chelsea/Seatech/Wetlab CStar [1/m]', '#b8b8b8', -90),
    (0.9464, 0.5, 'Upoly 0, UVP', '#6080d0', -90),
    (0.9945, 0.5, 'Chlor/Flour Voltage', '#72b072', -90),
    (0.5077, -0.0425, 'Depth [salt water, m]', '#444444', 180),
]
for tx, ty, txt, col, ang in titles:
    fig.add_annotation(x=tx, y=ty, xref='paper', yref='paper', text=txt,
                       xanchor='center', yanchor='middle', showarrow=False,
                       textangle=ang, font=dict(title_font, color=col))

fig.write_html("out.html")
